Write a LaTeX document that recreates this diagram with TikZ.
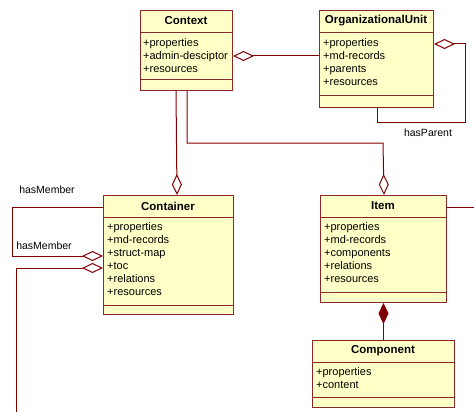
\documentclass[tikz,border=0pt]{standalone}
\usepackage{fontspec}
\setmainfont{Liberation Sans}
\usepackage{tikz}
\usetikzlibrary{arrows.meta, positioning}
\definecolor{umlborder}{RGB}{140, 40, 40}
\definecolor{umlfill}{RGB}{255, 255, 200}
\definecolor{umlline}{RGB}{128, 0, 0}

\tikzset{
    classbox/.style={draw=umlborder, fill=umlfill, line width=1pt, anchor=north west, inner sep=0pt},
    classtitle/.style={font=\fontsize{11.5}{13}\selectfont\bfseries, inner sep=0pt},
    classattr/.style={font=\fontsize{11}{13}\selectfont, align=left, anchor=north west, inner sep=0pt},
    sepline/.style={draw=umlborder, line width=1pt},
    assoc/.style={draw=umlline, line width=1pt},
    aggr/.style={assoc, {Diamond[open, fill=white, length=21pt, width=10pt]}-},
    compo/.style={assoc, {Diamond[fill=umlline, length=21pt, width=10pt]}-},
    rolelabel/.style={font=\fontsize{10.5}{12}\selectfont, inner sep=0pt}
}

\begin{document}
\begin{tikzpicture}[x=1pt, y=-1pt]

    \useasboundingbox (0, 0) rectangle (474, 412);

    % Context
    \node[classbox, minimum width=92pt, minimum height=80pt] at (140, 10) (ctx) {};
    \node[classtitle] at (186, 21) (ctxtitle) {Context};
    \draw[sepline] (140, 33) -- (232, 33);
    \node[classattr] at (143, 38) (ctxattr) {+properties\\+admin-desciptor\\+resources};
    \draw[sepline] (140, 80) -- (232, 80);

    % Organizational unit
    \node[classbox, minimum width=114pt, minimum height=97pt] at (319, 10) (ou) {};
    \node[classtitle] at (376, 21) (outitle) {OrganizationalUnit};
    \draw[sepline] (319, 33) -- (433, 33);
    \node[classattr] at (323, 38) (ouattr) {+properties\\+md-records\\+parents\\+resources};
    \draw[sepline] (319, 95) -- (433, 95);

    % Container
    \node[classbox, minimum width=130pt, minimum height=119pt] at (103, 195) (cont) {};
    \node[classtitle] at (168, 206) (conttitle) {Container};
    \draw[sepline] (103, 217) -- (233, 217);
    \node[classattr] at (107, 222) (contattr) {+properties\\+md-records\\+struct-map\\+toc\\+relations\\+resources};
    \draw[sepline] (103, 305) -- (233, 305);

    % Item
    \node[classbox, minimum width=126pt, minimum height=107pt] at (320, 195) (item) {};
    \node[classtitle] at (383, 206) (itemtitle) {Item};
    \draw[sepline] (320, 217) -- (446, 217);
    \node[classattr] at (324, 222) (itemattr) {+properties\\+md-records\\+components\\+relations\\+resources};
    \draw[sepline] (320, 292) -- (446, 292);

    % Component
    \node[classbox, minimum width=142pt, minimum height=67pt] at (312, 340) (comp) {};
    \node[classtitle] at (383, 351) (comptitle) {Component};
    \draw[sepline] (312, 362) -- (454, 362);
    \node[classattr] at (316, 367) (compattr) {+properties\\+content};
    \draw[sepline] (312, 397) -- (454, 397);

    % free ends
    \coordinate (memberout) at (16, 412);
    \coordinate (itemout) at (474, 207);

    % Context -- OrganizationalUnit
    \draw[aggr] ([yshift=-46pt]ctx.north east) -- ([yshift=-46pt]ou.north west);

    % hasParent
    \draw[aggr] ([yshift=-34pt]ou.north east) -- ++(31, 0) |- (377, 122) -- (377, 107);
    \node[rolelabel] at (428, 133) (hasparent) {hasParent};

    % Context -- Container, Context -- Item
    \draw[aggr] ([xshift=-57pt]cont.north east) -- ([xshift=36pt]ctx.south west);
    \draw[aggr] ([xshift=-63pt]item.north east) -- (383, 143) -| ([xshift=47pt]ctx.south west);

    % hasMember
    \draw[aggr] ([yshift=-61pt]cont.north west) -- (12, 256) |- ([yshift=-12pt]cont.north west);
    \node[rolelabel] at (47, 190) (member1) {hasMember};
    \node[rolelabel] at (44, 246) (member2) {hasMember};
    \draw[aggr] ([yshift=-73pt]cont.north west) -| (memberout);

    % Item out, Item -- Component
    \draw[assoc] ([yshift=-12pt]item.north east) -- (itemout);
    \draw[compo] (item.south) -- (comp.north);

\end{tikzpicture}
\end{document}
